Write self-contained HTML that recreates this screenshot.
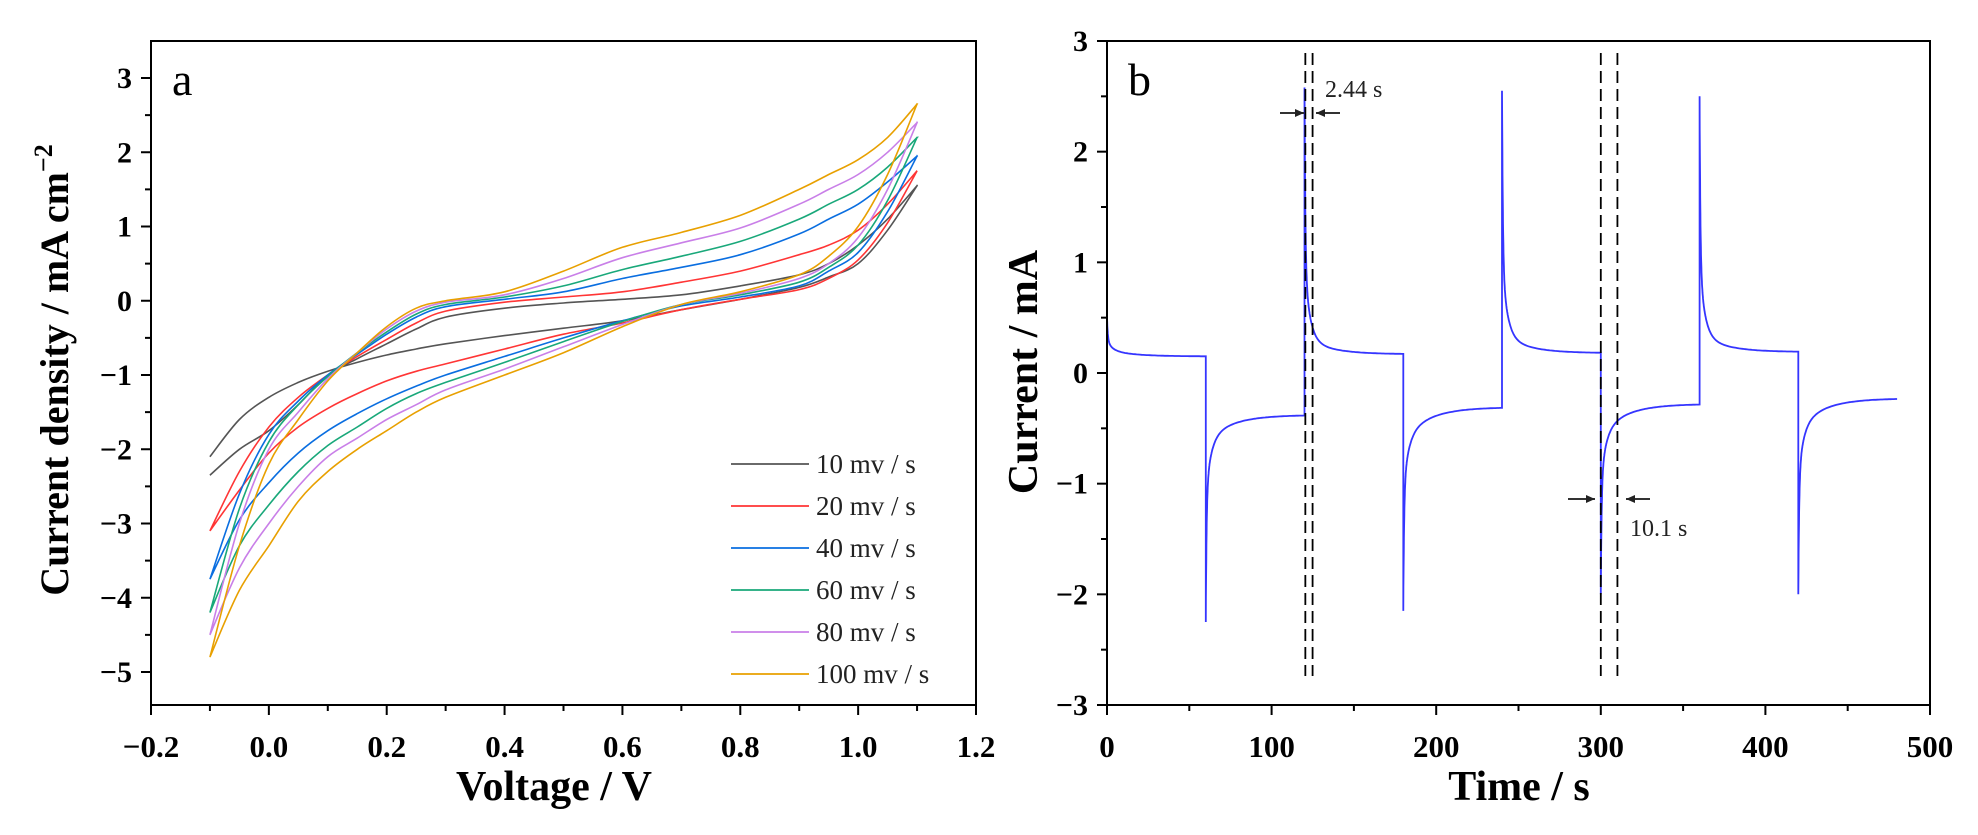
<!DOCTYPE html>
<html><head><meta charset="utf-8"><style>
html,body{margin:0;padding:0;background:#fff;}
svg{display:block;font-family:"Liberation Serif",serif;}
</style></head><body>
<svg id="chart" width="1978" height="835" viewBox="0 0 1978 835">
<g id="pa"></g>
<g id="pb"></g>
</svg>
<script>
// ---------- Panel a data ----------
const voltages = [-0.1,-0.05,0,0.05,0.1,0.15,0.2,0.25,0.3,0.4,0.5,0.6,0.7,0.8,0.9,0.95,1.0,1.05,1.1];
const rateLabels = ["10 mv / s","20 mv / s","40 mv / s","60 mv / s","80 mv / s","100 mv / s"];
const fwd10  = [-2.35,-2.0,-1.75,-1.4,-1.0,-0.78,-0.58,-0.38,-0.22,-0.1,-0.03,0.02,0.08,0.2,0.35,0.5,0.75,1.1,1.55];
const rev10  = [-2.1,-1.6,-1.3,-1.1,-0.95,-0.83,-0.73,-0.65,-0.58,-0.47,-0.37,-0.27,-0.12,0.02,0.18,0.32,0.5,0.95,1.55];
const fwd20  = [-3.1,-2.3,-1.7,-1.3,-1.0,-0.75,-0.52,-0.3,-0.14,-0.02,0.05,0.12,0.25,0.4,0.62,0.75,0.95,1.3,1.75];
const rev20  = [-3.1,-2.55,-2.05,-1.7,-1.45,-1.25,-1.08,-0.95,-0.85,-0.65,-0.45,-0.3,-0.12,0.02,0.15,0.3,0.55,1.05,1.75];
const fwd40  = [-3.75,-2.6,-1.8,-1.35,-1.0,-0.72,-0.45,-0.22,-0.08,0.02,0.12,0.3,0.45,0.62,0.9,1.1,1.3,1.6,1.95];
const rev40  = [-3.75,-2.95,-2.45,-2.05,-1.75,-1.52,-1.32,-1.15,-1.0,-0.75,-0.5,-0.27,-0.07,0.05,0.2,0.4,0.65,1.2,1.95];
const fwd60  = [-4.2,-2.8,-1.9,-1.4,-1.02,-0.7,-0.42,-0.18,-0.05,0.05,0.2,0.42,0.6,0.8,1.1,1.3,1.5,1.8,2.2];
const rev60  = [-4.2,-3.3,-2.75,-2.3,-1.95,-1.7,-1.45,-1.25,-1.1,-0.83,-0.55,-0.28,-0.05,0.08,0.25,0.45,0.75,1.35,2.2];
const fwd80  = [-4.5,-3.0,-2.0,-1.5,-1.05,-0.7,-0.38,-0.14,-0.02,0.08,0.3,0.58,0.78,0.98,1.3,1.5,1.7,2.0,2.4];
const rev80  = [-4.5,-3.6,-3.0,-2.5,-2.1,-1.85,-1.6,-1.4,-1.2,-0.92,-0.62,-0.32,-0.05,0.1,0.3,0.5,0.85,1.5,2.4];
const fwd100 = [-4.8,-3.3,-2.2,-1.6,-1.08,-0.7,-0.35,-0.1,0.0,0.12,0.4,0.72,0.92,1.15,1.5,1.7,1.9,2.2,2.65];
const rev100 = [-4.8,-3.9,-3.3,-2.7,-2.3,-2.0,-1.75,-1.5,-1.3,-1.0,-0.7,-0.35,-0.05,0.12,0.35,0.6,1.0,1.7,2.65];
const aXTicks = [-0.2,0.0,0.2,0.4,0.6,0.8,1.0,1.2];
const aXTickLabels = ["\u22120.2","0.0","0.2","0.4","0.6","0.8","1.0","1.2"];
const aYTicks = [3,2,1,0,-1,-2,-3,-4,-5];
const aYTickLabels = ["3","2","1","0","\u22121","\u22122","\u22123","\u22124","\u22125"];

// ---------- Panel b data ----------
const stepTimes  = [0,60,120,180,240,300,360,420];
const stepPeaks  = [0.5,-2.25,2.58,-2.15,2.55,-2.0,2.5,-2.0];
const stepKnees  = [0.21,-0.62,0.32,-0.6,0.35,-0.55,0.35,-0.5];
const stepEnds   = [0.15,-0.38,0.17,-0.31,0.18,-0.28,0.19,-0.23];
const bXTicks = [0,100,200,300,400,500];
const bXTickLabels = ["0","100","200","300","400","500"];
const bYTicks = [3,2,1,0,-1,-2,-3];
const bYTickLabels = ["3","2","1","0","\u22121","\u22122","\u22123"];
const dashTimes = [120.5,124.9,300,310.1];

const NS="http://www.w3.org/2000/svg";
function mk(parent,tag,attrs,text){const e=document.createElementNS(NS,tag);for(const k in attrs)e.setAttribute(k,attrs[k]);if(text!==undefined)e.textContent=text;parent.appendChild(e);return e;}

// ---------- Panel a ----------
const pa=document.getElementById('pa');
const aL=151,aR=976,aT=41,aB=705;
const ax=v=>aL+(v+0.2)/1.4*(aR-aL);
const ay=v=>78+(3-v)*74.25;
function smooth(pts){let d=`M${pts[0][0]},${pts[0][1]}`;for(let i=0;i<pts.length-1;i++){const p0=pts[Math.max(0,i-1)],p1=pts[i],p2=pts[i+1],p3=pts[Math.min(pts.length-1,i+2)];const c1=[p1[0]+(p2[0]-p0[0])/6,p1[1]+(p2[1]-p0[1])/6],c2=[p2[0]-(p3[0]-p1[0])/6,p2[1]-(p3[1]-p1[1])/6];d+=` C${c1[0].toFixed(1)},${c1[1].toFixed(1)} ${c2[0].toFixed(1)},${c2[1].toFixed(1)} ${p2[0].toFixed(1)},${p2[1].toFixed(1)}`;}return d;}
const series=[[fwd10,rev10,"#555555"],[fwd20,rev20,"#ff3535"],[fwd40,rev40,"#0a6ee0"],[fwd60,rev60,"#19a87a"],[fwd80,rev80,"#c97fe8"],[fwd100,rev100,"#e8a000"]];
series.forEach((s,i)=>{
  const f=voltages.map((v,j)=>[ax(v),ay(s[0][j])]);
  const r=voltages.map((v,j)=>[ax(v),ay(s[1][j])]);
  const p=mk(pa,'path',{d:smooth(f)+' '+smooth(r.slice().reverse()).replace('M','L'),fill:'none',stroke:s[2],'stroke-width':1.6});
  
  
  const ly=464+i*42;
  const l=mk(pa,'line',{x1:731,x2:809,y1:ly,y2:ly,stroke:s[2],'stroke-width':1.8});
  
  
  const t=mk(pa,'text',{x:816,y:ly+9,'font-size':27,fill:'#222'},rateLabels[i]);
  
  
});
const fa=mk(pa,'rect',{x:aL,y:aT,width:aR-aL,height:aB-aT,fill:'none',stroke:'#000','stroke-width':2});


aXTicks.forEach((v,i)=>{const x=ax(v);mk(pa,'line',{x1:x,x2:x,y1:aB,y2:aB+10,stroke:'#000','stroke-width':2});
  const t=mk(pa,'text',{x:x,y:757,'font-size':31,'font-weight':'bold','text-anchor':'middle'},aXTickLabels[i]);
  
  
  if(i<aXTicks.length-1){const xm=ax(v+0.1);mk(pa,'line',{x1:xm,x2:xm,y1:aB,y2:aB+6,stroke:'#000','stroke-width':2});}});
aYTicks.forEach((v,i)=>{const y=ay(v);mk(pa,'line',{x1:aL-10,x2:aL,y1:y,y2:y,stroke:'#000','stroke-width':2});
  const t=mk(pa,'text',{x:132,y:y+10,'font-size':30,'font-weight':'bold','text-anchor':'end'},aYTickLabels[i]);
  
  
  const ym=ay(v-0.5);if(ym<aB)mk(pa,'line',{x1:aL-6,x2:aL,y1:ym,y2:ym,stroke:'#000','stroke-width':2});
  const yu=ay(v+0.5);if(i==0&&yu>aT)mk(pa,'line',{x1:aL-6,x2:aL,y1:yu,y2:yu,stroke:'#000','stroke-width':2});});
const xta=mk(pa,'text',{x:554,y:800,'font-size':42,'font-weight':'bold','text-anchor':'middle'},'Voltage / V');


const yta=mk(pa,'text',{transform:'translate(68,370) rotate(-90)','font-size':40,'font-weight':'bold','text-anchor':'middle'});


mk(yta,'tspan',{},'Current density / mA cm');
mk(yta,'tspan',{dy:-16,'font-size':26},'\u22122');
const la=mk(pa,'text',{x:172,y:95,'font-size':46},'a');



// ---------- Panel b ----------
const pb=document.getElementById('pb');
const bL=1107,bR=1930,bT=41,bB=705;
const bx=t=>bL+t/500*(bR-bL);
const by=v=>bT+(3-v)*(bB-bT)/6;
let pts=[];
stepTimes.forEach((t0,i)=>{
  const t1=i<stepTimes.length-1?stepTimes[i+1]:480;
  const pk=stepPeaks[i],kn=stepKnees[i],en=stepEnds[i];
  if(i>0)pts.push([bx(t0),by(stepEnds[i-1])]);
  for(let dt=0;dt<=t1-t0;dt+=(dt<4?0.1:1)){
    const slow=en+(kn-en)*Math.exp(-dt/15);
    const v=slow+(pk-kn)*(0.7*Math.exp(-dt/0.5)+0.3*Math.exp(-dt/3));
    pts.push([bx(t0+dt),by(v)]);
  }
});
const wave=mk(pb,'path',{d:'M'+pts.map(p=>p[0].toFixed(1)+','+p[1].toFixed(1)).join(' L'),fill:'none',stroke:'#3535ff','stroke-width':1.8});


dashTimes.forEach(t=>{const l=mk(pb,'line',{x1:bx(t),x2:bx(t),y1:53,y2:676,stroke:'#000','stroke-width':1.8,'stroke-dasharray':'12,6'});
  
  });
function arrow(x1,x2,y){mk(pb,'line',{x1:x1,x2:x2,y1:y,y2:y,stroke:'#333','stroke-width':2});const d=x2>x1?-1:1;mk(pb,'polygon',{points:`${x2},${y} ${x2+d*9},${y-4} ${x2+d*9},${y+4}`,fill:'#222'});}
arrow(1280,1304,113);arrow(1340,1316,113);
arrow(1568,1595,499);arrow(1650,1626,499);
const t1=mk(pb,'text',{x:1325,y:97,'font-size':24,fill:'#222'},'2.44 s');


const t2=mk(pb,'text',{x:1630,y:536,'font-size':24,fill:'#222'},'10.1 s');


const fb=mk(pb,'rect',{x:bL,y:bT,width:bR-bL,height:bB-bT,fill:'none',stroke:'#000','stroke-width':2});


bXTicks.forEach((v,i)=>{const x=bx(v);mk(pb,'line',{x1:x,x2:x,y1:bB,y2:bB+10,stroke:'#000','stroke-width':2});
  const t=mk(pb,'text',{x:x,y:757,'font-size':31,'font-weight':'bold','text-anchor':'middle'},bXTickLabels[i]);
  
  
  if(i<bXTicks.length-1){const xm=bx(v+50);mk(pb,'line',{x1:xm,x2:xm,y1:bB,y2:bB+6,stroke:'#000','stroke-width':2});}});
bYTicks.forEach((v,i)=>{const y=by(v);mk(pb,'line',{x1:bL-10,x2:bL,y1:y,y2:y,stroke:'#000','stroke-width':2});
  const t=mk(pb,'text',{x:1088,y:y+10,'font-size':30,'font-weight':'bold','text-anchor':'end'},bYTickLabels[i]);
  
  
  if(i<bYTicks.length-1){const ym=by(v-0.5);mk(pb,'line',{x1:bL-6,x2:bL,y1:ym,y2:ym,stroke:'#000','stroke-width':2});}});
const xtb=mk(pb,'text',{x:1519,y:800,'font-size':42,'font-weight':'bold','text-anchor':'middle'},'Time / s');


const ytb=mk(pb,'text',{transform:'translate(1037,372) rotate(-90)','font-size':42,'font-weight':'bold','text-anchor':'middle'},'Current / mA');


const lb=mk(pb,'text',{x:1128,y:95,'font-size':46},'b');


</script>
</body></html>
